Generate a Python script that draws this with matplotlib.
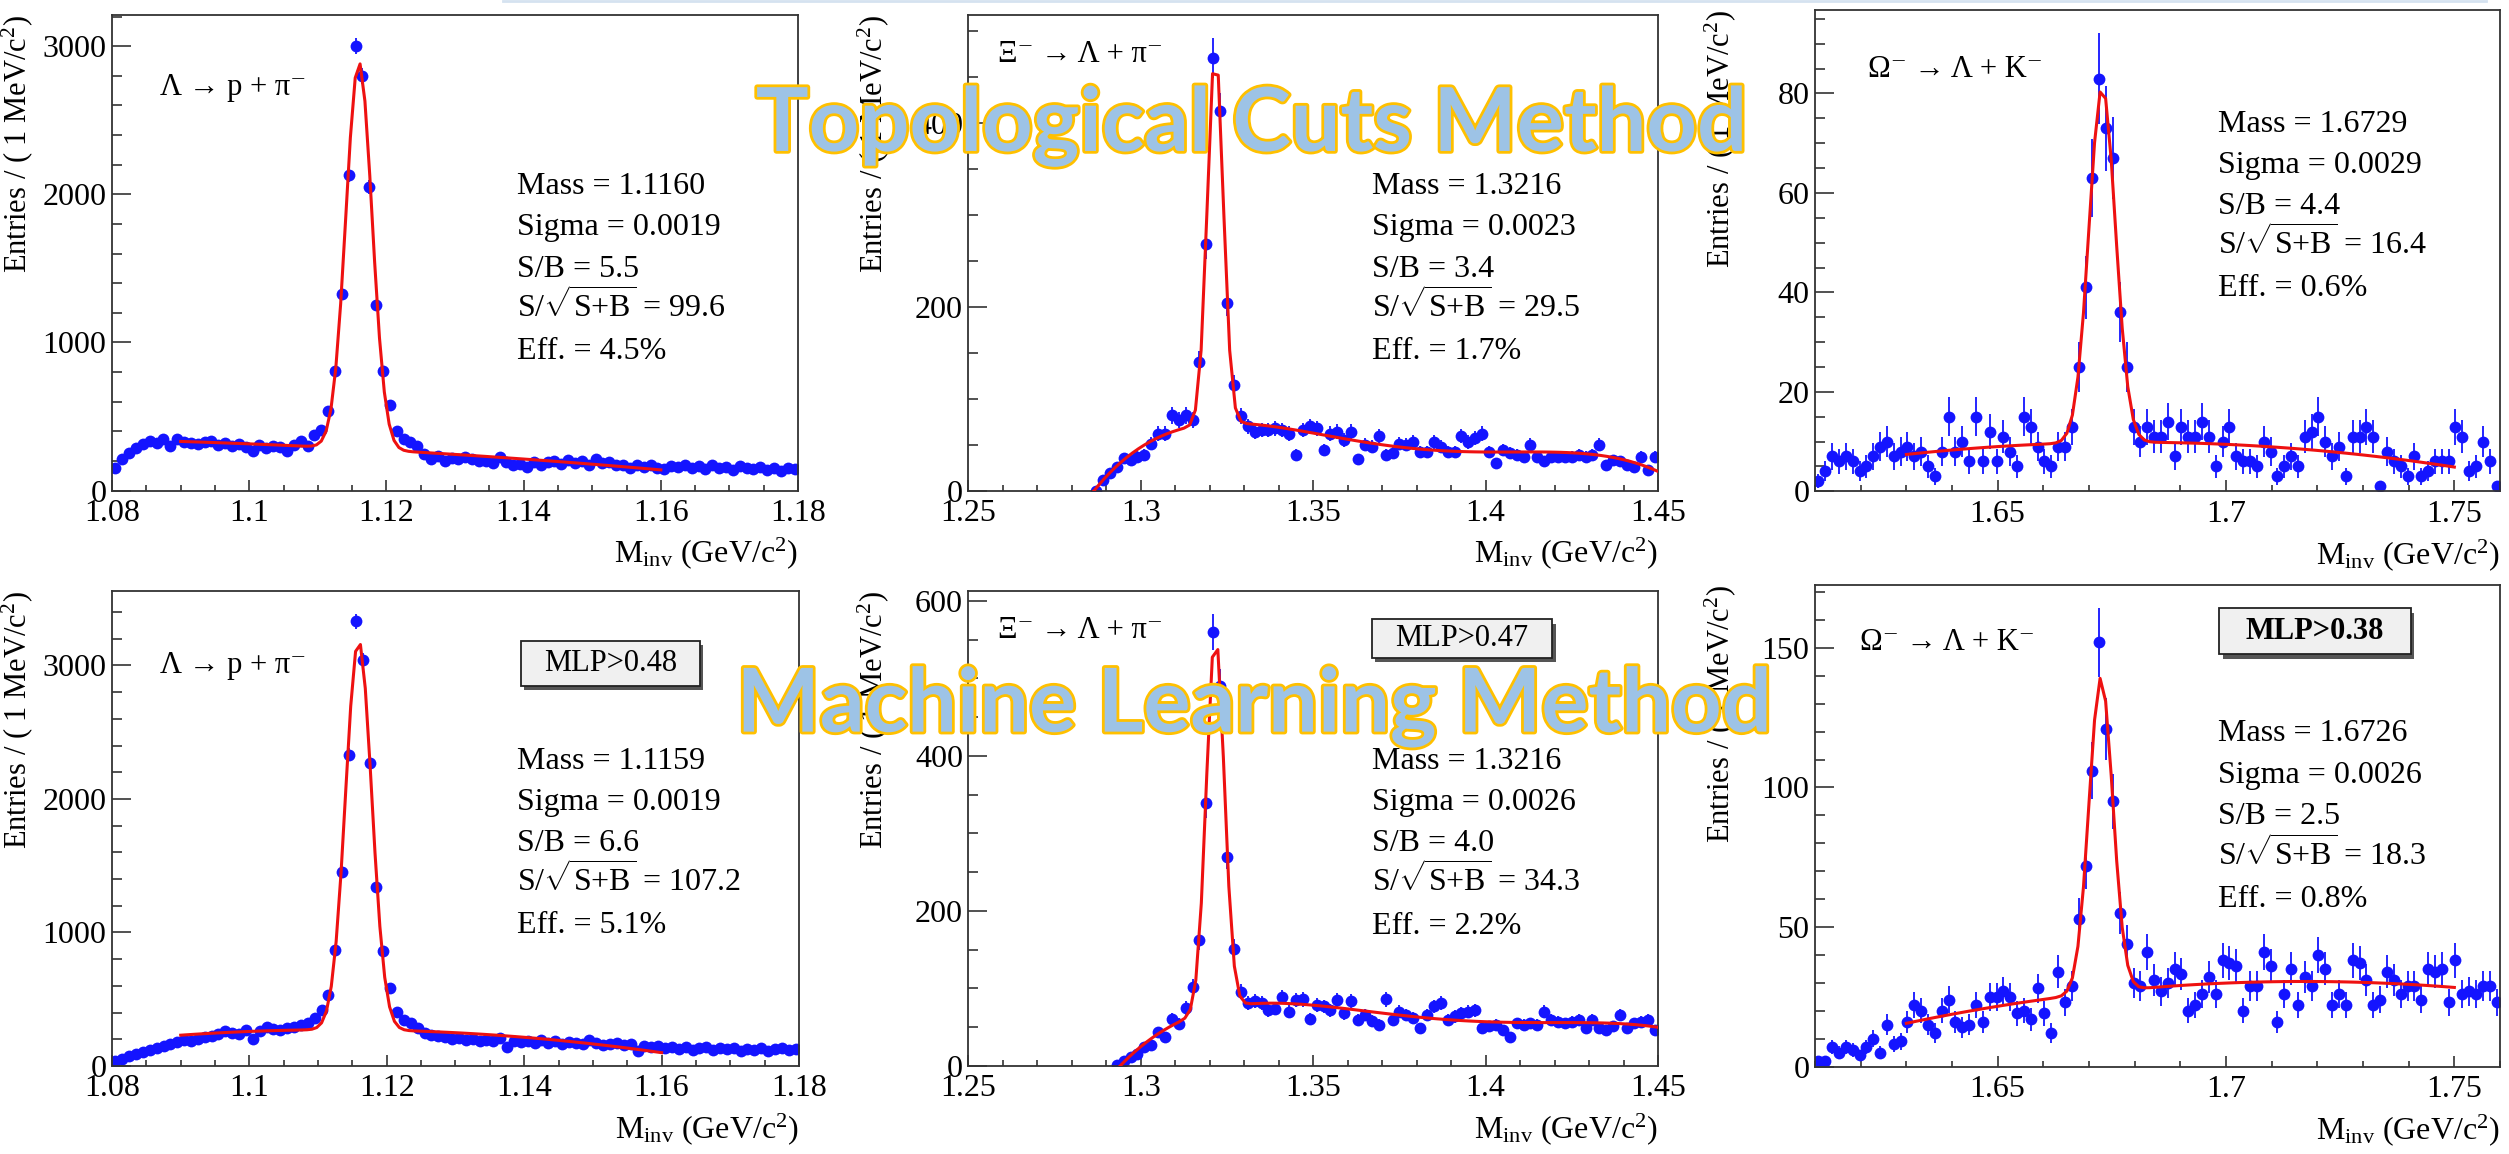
import numpy as np
import matplotlib
matplotlib.use('Agg')
import matplotlib.pyplot as plt
import matplotlib.patheffects as pe
from matplotlib.ticker import MultipleLocator, FuncFormatter
from matplotlib.lines import Line2D
from matplotlib.patches import Rectangle
from numpy.polynomial import legendre as leg

plt.rcParams['font.family'] = ['Liberation Serif', 'DejaVu Serif']
plt.rcParams['mathtext.fontset'] = 'custom'
plt.rcParams['mathtext.rm'] = 'Liberation Serif'
plt.rcParams['mathtext.it'] = 'Liberation Serif:italic'
plt.rcParams['mathtext.bf'] = 'Liberation Serif:bold'

# ---- histograms: (first bin low edge, bin width, counts) ----
lam_start, lam_width = 1.080, 0.001
lam_tc_counts = [
    150, 215, 255, 290, 315, 337, 318, 348, 302, 348,
    330, 322, 315, 325, 335, 310, 318, 300, 312, 296,
    268, 305, 285, 298, 292, 266, 308, 336, 302, 372,
    410, 535, 810, 1330, 2130, 3000, 2800, 2050, 1250, 806,
    575, 405, 345, 325, 300, 245, 215, 232, 200, 222,
    210, 228, 214, 202, 200, 185, 225, 190, 170, 180,
    160, 195, 175, 190, 200, 180, 205, 185, 200, 175,
    210, 185, 195, 170, 175, 150, 170, 160, 175, 150,
    145, 165, 160, 175, 150, 165, 145, 170, 150, 160,
    140, 165, 150, 145, 160, 140, 150, 135, 150, 145]
lam_ml_counts = [
    40, 55, 72, 88, 102, 118, 135, 150, 168, 180,
    195, 188, 202, 215, 228, 242, 262, 248, 236, 272,
    205, 262, 290, 276, 268, 282, 292, 305, 320, 360,
    420, 530, 868, 1456, 2330, 3330, 3041, 2269, 1337, 863,
    587, 407, 345, 320, 282, 250, 232, 222, 215, 200,
    212, 192, 205, 186, 198, 190, 208, 140, 188, 178,
    185, 170, 192, 175, 185, 168, 180, 172, 165, 198,
    175, 160, 168, 172, 158, 165, 110, 150, 140, 150,
    135, 140, 128, 145, 122, 135, 140, 118, 132, 125,
    138, 115, 130, 122, 135, 110, 125, 132, 118, 128]

xi_width = 0.002
xi_tc_start = 1.286
xi_tc_counts = [
    0, 12, 19, 26, 35, 33, 37, 39, 51, 62,
    62, 82, 77, 82, 77, 140, 269, 471, 413, 204,
    115, 81, 70, 64, 66, 66, 68, 66, 62, 39,
    66, 70, 68, 44, 62, 64, 55, 64, 34, 50,
    48, 59, 39, 41, 51, 50, 53, 42, 42, 53,
    48, 42, 42, 59, 53, 57, 62, 42, 30, 44,
    41, 39, 37, 50, 37, 32, 37, 37, 37, 37,
    39, 37, 39, 50, 28, 33, 32, 28, 26, 37,
    22, 37]
xi_ml_start = 1.292
xi_ml_counts = [
    1, 6, 11, 16, 24, 27, 44, 38, 60, 54,
    75, 102, 163, 339, 560, 490, 270, 151, 96, 81,
    84, 81, 72, 74, 89, 70, 85, 86, 60, 79,
    77, 72, 85, 68, 84, 59, 66, 58, 53, 86,
    59, 70, 66, 62, 49, 66, 77, 81, 59, 64,
    68, 70, 72, 49, 51, 53, 46, 38, 55, 53,
    55, 53, 70, 59, 57, 55, 57, 59, 49, 59,
    49, 46, 51, 66, 49, 55, 57, 59, 46]

om_start, om_width = 1.610, 0.0015
om_tc_counts = [
    2, 4, 7, 6, 7, 6, 4, 5, 7, 9,
    10, 7, 8, 9, 7, 8, 5, 3, 8, 15,
    8, 10, 6, 15, 6, 12, 6, 11, 8, 5,
    15, 13, 9, 6, 5, 9, 9, 13, 25, 41,
    63, 83, 73, 67, 36, 25, 13, 10, 13, 11,
    11, 14, 7, 13, 11, 11, 14, 11, 5, 10,
    13, 7, 6, 6, 5, 10, 8, 3, 5, 7,
    5, 11, 12, 15, 10, 7, 9, 3, 11, 11,
    13, 11, 1, 8, 6, 5, 3, 7, 3, 4,
    6, 6, 6, 13, 11, 4, 5, 10, 6, 1]
om_ml_counts = [
    2, 2, 7, 5, 7, 6, 4, 7, 10, 5,
    15, 8, 9, 16, 22, 20, 15, 12, 20, 24,
    16, 14, 15, 22, 16, 25, 25, 27, 25, 19,
    20, 17, 28, 19, 12, 34, 23, 29, 53, 72,
    106, 152, 121, 95, 55, 44, 30, 29, 41, 31,
    27, 30, 35, 33, 20, 22, 26, 32, 26, 38,
    37, 36, 20, 29, 29, 41, 36, 16, 26, 35,
    22, 32, 29, 40, 35, 22, 26, 22, 38, 37,
    31, 22, 24, 34, 31, 26, 29, 29, 24, 35,
    34, 35, 23, 38, 26, 27, 26, 29, 29, 23]

# fit results printed on each pad
masses = [1.1160, 1.3216, 1.6729, 1.1159, 1.3216, 1.6726]
sigmas = [0.0019, 0.0023, 0.0029, 0.0019, 0.0026, 0.0026]
s_over_b = ['5.5', '3.4', '4.4', '6.6', '4.0', '2.5']
signif = ['99.6', '29.5', '16.4', '107.2', '34.3', '18.3']
effs = ['4.5%', '1.7%', '0.6%', '5.1%', '2.2%', '0.8%']
mlp_cuts = [None, None, None, 'MLP>0.48', 'MLP>0.47', 'MLP>0.38']
decays = ['Λ → p + π⁻', 'Ξ⁻ → Λ + π⁻', 'Ω⁻ → Λ + K⁻'] * 2

BLUE = '#1414ff'
RED = '#ee1111'


def fit_peak(x, y, lo, hi, mass, sigma, deg):
    # gaussian with fixed mass/sigma + legendre background, linear least squares
    sel = (x >= lo - 1e-9) & (x <= hi + 1e-9)
    t = lambda v: 2 * (v - lo) / (hi - lo) - 1
    g = lambda v: np.exp(-0.5 * ((v - mass) / sigma) ** 2)
    A = np.column_stack([g(x[sel]), leg.legvander(t(x[sel]), deg)])
    c = np.linalg.lstsq(A, y[sel], rcond=None)[0]
    xf = np.linspace(lo, hi, 100)
    return xf, c[0] * g(xf) + leg.legval(t(xf), c[1:])


pads = [
    dict(start=lam_start, w=lam_width, y=lam_tc_counts, xlim=(1.08, 1.18), fit=(1.09, 1.16, 2),
         xmaj=0.02, xmin=0.005, ymaj=1000, ymin=200,
         rect=[0.04464, 0.57487, 0.27342, 0.41170], dec=(0.070, 0.833), st=(0.590, 0.624, 0.0868)),
    dict(start=xi_tc_start, w=xi_width, y=xi_tc_counts, xlim=(1.25, 1.45), fit=(1.286, 1.45, 4),
         xmaj=0.05, xmin=0.01, ymaj=200, ymin=50,
         rect=[0.38601, 0.57487, 0.27481, 0.41170], dec=(0.043, 0.902), st=(0.585, 0.624, 0.0868)),
    dict(start=om_start, w=om_width, y=om_tc_counts, xlim=(1.61, 1.76), fit=(1.63, 1.75, 2),
         xmaj=0.05, xmin=0.01, ymaj=20, ymin=5,
         rect=[0.72340, 0.57426, 0.27302, 0.41681], dec=(0.077, 0.861), st=(0.589, 0.748, 0.0857)),
    dict(start=lam_start, w=lam_width, y=lam_ml_counts, xlim=(1.08, 1.18), fit=(1.09, 1.16, 2),
         xmaj=0.02, xmin=0.005, ymaj=1000, ymin=200,
         rect=[0.04464, 0.07626, 0.27381, 0.41161], dec=(0.070, 0.828), st=(0.590, 0.625, 0.0860),
         box=(0.5953, 0.8008, 0.2606, 0.0939)),
    dict(start=xi_ml_start, w=xi_width, y=xi_ml_counts, xlim=(1.25, 1.45), fit=(1.292, 1.45, 4),
         xmaj=0.05, xmin=0.01, ymaj=200, ymin=50,
         rect=[0.38601, 0.07626, 0.27481, 0.41161], dec=(0.043, 0.902), st=(0.585, 0.626, 0.0868),
         box=(0.585, 0.859, 0.2618, 0.0815)),
    dict(start=om_start, w=om_width, y=om_ml_counts, xlim=(1.61, 1.76), fit=(1.63, 1.75, 3),
         xmaj=0.05, xmin=0.01, ymaj=50, ymin=10,
         rect=[0.72340, 0.07582, 0.27302, 0.41724], dec=(0.065, 0.864), st=(0.589, 0.675, 0.0860),
         box=(0.5904, 0.8563, 0.2794, 0.0956)),
]

fig = plt.figure(figsize=(25.09, 11.54), dpi=100)

for i, p in enumerate(pads):
    ax = fig.add_axes(p['rect'])
    y = np.array(p['y'], dtype=float)
    x = p['start'] + p['w'] * (np.arange(len(y)) + 0.5)

    ax.errorbar(x, y, yerr=np.sqrt(y), fmt='o', color=BLUE, ms=8.5, mew=0,
                elinewidth=1.3, capsize=0, zorder=2)
    lo, hi, deg = p['fit']
    xf, yf = fit_peak(x, y, lo, hi, masses[i], sigmas[i], deg)
    ax.plot(xf, yf, color=RED, lw=2.2, zorder=3)

    ax.set_xlim(*p['xlim'])
    ax.set_ylim(0, 1.05 * np.max(y + np.sqrt(y)))
    ax.xaxis.set_major_locator(MultipleLocator(p['xmaj']))
    ax.xaxis.set_minor_locator(MultipleLocator(p['xmin']))
    ax.yaxis.set_major_locator(MultipleLocator(p['ymaj']))
    ax.yaxis.set_minor_locator(MultipleLocator(p['ymin']))
    ax.xaxis.set_major_formatter(FuncFormatter(lambda v, pos: f'{v:g}'))
    ax.yaxis.set_major_formatter(FuncFormatter(lambda v, pos: f'{v:g}'))
    ax.tick_params(which='both', direction='in', top=False, right=False,
                   labelsize=23, width=1.1, color='#222222')
    ax.tick_params(axis='x', which='major', length=8, pad=6)
    ax.tick_params(axis='x', which='minor', length=4)
    ax.tick_params(axis='y', which='major', length=14, pad=4)
    ax.tick_params(axis='y', which='minor', length=7)
    for s in ax.spines.values():
        s.set_linewidth(1.3)
        s.set_color('#333333')

    ax.set_ylabel('Entries / ( 1 MeV/c$^{2}$)', fontsize=22, loc='top')
    ax.yaxis.set_label_coords(-0.112, 1.0)
    ax.set_xlabel(r'M$_{\mathrm{inv}}$ (GeV/c$^{2}$)', fontsize=23, loc='right')
    ax.xaxis.set_label_coords(1.0, -0.095)

    ax.text(p['dec'][0], p['dec'][1], decays[i], transform=ax.transAxes,
            fontsize=22, va='baseline', ha='left')

    sx, sy, dy = p['st']
    lines = [f'Mass = {masses[i]:.4f}', f'Sigma = {sigmas[i]:.4f}',
             f'S/B = {s_over_b[i]}', r'S/$\sqrt{\mathrm{S{+}B}}$ = ' + signif[i],
             f'Eff. = {effs[i]}']
    for j, t in enumerate(lines):
        ax.text(sx, sy - j * dy, t, transform=ax.transAxes, fontsize=23,
                va='baseline', ha='left')

    if mlp_cuts[i]:
        bx, by, bw, bh = p['box']
        ax.add_patch(Rectangle((bx + 0.005, by - 0.009), bw, bh, transform=ax.transAxes,
                               facecolor='#555555', edgecolor='none', zorder=4))
        ax.add_patch(Rectangle((bx, by), bw, bh, transform=ax.transAxes,
                               facecolor='#f0f0f0', edgecolor='#222222', lw=1.3, zorder=5))
        ax.text(bx + bw / 2, by + bh / 2, mlp_cuts[i], transform=ax.transAxes,
                fontsize=22, ha='center', va='center', zorder=6,
                weight='bold' if i == 5 else 'normal')

# slide headings laid over the pads
head = dict(ha='center', va='baseline', fontsize=63.5, family='Lato', weight='bold',
            color='#9dc3e6', path_effects=[pe.withStroke(linewidth=4, foreground='#ffc000')])
fig.text(0.499, 0.8692, 'Topological Cuts Method', **head)
fig.text(0.500, 0.3660, 'Machine Learning Method', **head)

fig.add_artist(Line2D([503 / 2509, 2486 / 2509], [0.999, 0.999], color='#d5e2f0', lw=2))

fig.savefig('out.png', dpi=100)
